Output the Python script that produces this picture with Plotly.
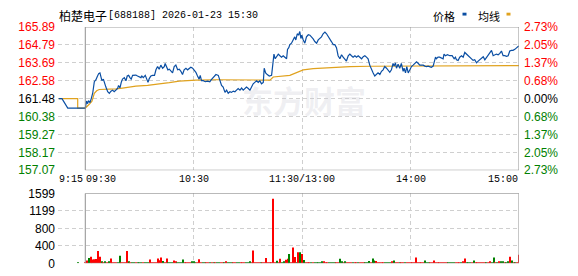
import plotly.graph_objects as go

# ---------------- data ----------------
prev_close = 161.48
price_ticks = [157.07, 158.17, 159.27, 160.38, 161.48, 162.58, 163.69, 164.79, 165.89]
vol_ticks = [0, 400, 800, 1199, 1599]
x_label_text = ["9:15", "09:30", "10:30", "11:30/13:00", "14:00", "15:00"]
x_label_pos = [-15.1, 0, 60, 120, 180, 240]   # minutes from 09:30 (pre-market compressed to the left)
x_grid_pos = [-15.1, 60, 120, 180]

# pre-market call auction (9:15-9:25)
pre_price_pts = [(-14.7, 161.48), (-12.9, 161.48), (-9.7, 160.90), (0, 160.90)]
pre_avg_pts = [(-14.7, 161.48), (-4.2, 161.48), (-4.2, 160.90), (0, 160.90)]
pre_vol_t = [-3.9]
pre_vol = [20]

# (minute index, price)
price_pts = [
    (0, 160.90), (0.7, 161.33), (1.3, 161.17), (1.8, 161.36), (2.6, 161.23), (3.3, 161.48), (4.1, 161.81),
    (5.0, 162.52), (5.9, 162.64), (6.6, 162.83), (7.4, 163.02), (8.1, 163.06), (8.7, 162.83), (9.2, 162.58),
    (10.0, 162.68), (10.7, 162.39), (11.4, 162.19), (12.4, 161.90), (13.3, 161.81), (14.2, 161.94), (15.1, 162.00),
    (16.0, 161.90), (17.0, 162.00), (17.9, 162.10), (18.4, 162.29), (19.2, 162.14), (19.9, 162.48), (20.6, 162.68),
    (21.6, 162.77), (22.5, 162.58), (23.2, 162.87), (24.0, 162.91), (24.7, 162.77), (25.4, 162.68), (26.2, 162.91),
    (27.1, 162.93), (28.0, 162.93), (28.9, 162.87), (29.9, 162.83), (30.8, 162.77), (31.3, 162.87), (32.1, 162.77),
    (33.2, 162.91), (33.9, 162.68), (34.7, 162.48), (35.4, 162.71), (36.3, 162.87), (37.2, 162.91), (38.3, 162.91),
    (39.1, 163.25), (40.0, 163.45), (40.9, 163.29), (41.8, 163.54), (42.8, 163.35), (43.7, 163.45), (44.2, 163.64),
    (45.0, 163.41), (45.7, 163.25), (46.5, 163.29), (47.4, 163.16), (48.3, 163.06), (49.2, 163.45), (50.1, 163.54),
    (51.1, 163.25), (52.0, 163.29), (52.9, 163.16), (53.8, 162.96), (54.7, 163.25), (55.7, 163.35), (56.6, 163.25),
    (57.5, 163.35), (58.4, 163.41), (59.4, 163.35), (60.3, 163.25), (61.2, 163.10), (62.1, 162.87), (63.0, 162.68),
    (63.6, 162.91), (64.3, 162.58), (65.3, 162.58), (66.4, 162.52), (67.7, 162.56), (68.9, 162.52), (70.0, 162.68),
    (71.3, 162.87), (72.3, 162.96), (73.6, 162.91), (74.5, 162.58), (75.4, 162.29), (76.3, 162.19), (77.3, 161.86),
    (78.2, 162.00), (79.1, 161.81), (80.0, 161.90), (80.9, 161.86), (81.9, 161.94), (82.8, 161.90), (83.7, 162.00),
    (84.6, 162.10), (85.6, 162.00), (86.5, 162.13), (87.4, 162.00), (88.3, 162.10), (89.2, 162.19), (90.2, 162.10),
    (91.1, 162.00), (92.0, 162.19), (92.9, 162.39), (93.8, 162.48), (94.8, 162.58), (95.7, 162.48), (96.6, 162.58),
    (97.5, 162.39), (98.5, 162.48), (99.0, 163.35), (99.8, 163.06), (100.7, 162.96), (101.8, 162.87), (103.1, 162.91),
    (103.6, 163.45), (104.4, 164.22), (105.1, 163.93), (105.8, 164.03), (106.8, 164.22), (107.7, 164.12), (108.6, 164.03),
    (109.5, 164.12), (110.4, 164.03), (111.4, 163.93), (111.9, 164.51), (112.6, 164.61), (113.2, 164.80), (114.1, 164.89),
    (115.0, 165.09), (115.9, 165.28), (116.5, 165.09), (117.3, 165.47), (118.0, 165.38), (118.7, 165.61), (119.3, 165.18),
    (119.8, 165.38), (120.6, 165.09), (121.5, 164.89), (122.4, 165.28), (123.4, 165.41), (124.3, 165.38), (125.2, 165.28),
    (126.1, 165.15), (127.0, 164.99), (128.0, 164.89), (128.9, 165.09), (129.8, 165.18), (130.7, 165.28), (131.6, 165.47),
    (132.6, 165.57), (133.5, 165.47), (134.4, 165.28), (135.3, 165.09), (136.2, 164.99), (137.2, 164.80), (138.1, 164.80),
    (139.0, 164.61), (139.9, 164.12), (140.9, 163.93), (141.8, 164.18), (142.7, 164.03), (143.6, 163.93), (144.5, 163.79),
    (145.5, 164.12), (146.4, 164.22), (147.3, 164.12), (148.2, 164.03), (149.2, 164.12), (150.1, 164.03), (151.0, 164.12),
    (151.9, 164.03), (152.9, 163.93), (153.8, 164.06), (154.7, 164.12), (155.6, 164.03), (156.5, 163.93), (157.4, 163.54),
    (158.4, 163.25), (159.3, 163.06), (160.2, 162.87), (161.1, 162.96), (162.0, 163.06), (163.0, 162.96), (163.9, 163.16),
    (164.8, 163.25), (165.7, 163.45), (166.7, 163.35), (167.6, 163.25), (168.5, 163.10), (169.4, 163.25), (170.3, 163.64),
    (170.9, 163.48), (171.6, 163.68), (172.2, 163.35), (173.1, 163.60), (174.0, 163.35), (174.9, 163.64), (175.9, 163.16),
    (176.4, 163.35), (177.2, 163.06), (177.9, 163.45), (178.7, 163.06), (179.6, 163.25), (180.5, 163.45), (181.4, 163.54),
    (182.3, 163.64), (183.3, 163.74), (184.3, 163.64), (185.1, 163.54), (186.0, 163.54), (187.0, 163.54), (187.9, 163.48),
    (188.8, 163.45), (189.7, 163.48), (190.6, 163.45), (191.5, 163.41), (192.5, 163.48), (193.0, 163.74), (193.8, 164.03),
    (194.3, 163.93), (195.2, 164.03), (196.1, 164.03), (197.1, 163.99), (198.0, 163.93), (198.5, 164.22), (199.3, 164.12),
    (200.4, 164.18), (201.7, 164.12), (203.0, 164.12), (204.1, 163.93), (204.8, 164.03), (205.4, 163.87), (206.3, 163.83),
    (207.2, 164.03), (208.2, 164.12), (209.1, 164.03), (210.0, 164.32), (210.9, 164.22), (211.9, 164.12), (212.8, 164.03),
    (213.7, 163.93), (214.6, 163.83), (215.5, 163.87), (216.5, 163.68), (217.4, 163.79), (218.3, 163.87), (219.2, 163.93),
    (220.2, 164.06), (221.1, 163.87), (222.0, 164.03), (222.9, 164.12), (223.9, 164.32), (224.8, 164.45), (225.7, 164.12),
    (226.6, 164.18), (227.5, 164.22), (228.5, 164.18), (229.4, 164.26), (230.3, 164.41), (231.2, 164.12), (232.1, 164.12),
    (233.1, 164.08), (234.0, 164.12), (234.9, 164.41), (235.8, 164.45), (236.7, 164.45), (237.7, 164.51), (238.6, 164.61),
    (239.6, 164.70), (240, 164.70),
]

# (minute index, average price)
avg_pts = [
    (0, 160.90), (2.2, 161.13), (3.7, 161.32), (5.0, 161.81), (6.3, 161.96), (7.7, 162.04), (11.4, 162.04),
    (17.0, 162.08), (20.6, 162.13), (24.3, 162.21), (28.0, 162.25), (34.5, 162.29), (39.1, 162.33), (40.9, 162.39),
    (46.5, 162.46), (52.0, 162.56), (61.2, 162.62), (72.3, 162.64), (102.2, 162.62), (104.0, 162.81), (113.2, 162.91),
    (116.9, 163.06), (120.6, 163.25), (126.1, 163.33), (135.3, 163.39), (146.4, 163.45), (157.5, 163.47),
    (223.8, 163.47), (224.4, 163.51), (240, 163.51),
]

# per-minute volume (t = 0..240) and direction (r = up, g = down)
volume = [
    20, 65, 122, 151, 86, 94, 100, 281, 151, 43,
    22, 29, 22, 29, 108, 22, 22, 22, 20, 173,
    22, 22, 22, 281, 36, 22, 20, 22, 20, 22,
    20, 22, 20, 22, 20, 22, 86, 22, 22, 22,
    108, 72, 130, 50, 22, 108, 22, 22, 22, 65,
    43, 22, 20, 22, 86, 22, 22, 22, 22, 43,
    43, 22, 22, 94, 22, 22, 20, 22, 22, 22,
    22, 20, 22, 22, 20, 22, 22, 22, 36, 22,
    22, 22, 22, 22, 20, 22, 22, 22, 20, 22,
    22, 36, 22, 291, 22, 22, 22, 22, 22, 22,
    124, 22, 22, 22, 1476, 22, 58, 22, 102, 22,
    29, 80, 102, 211, 22, 364, 145, 22, 254, 254,
    211, 73, 22, 22, 22, 22, 22, 22, 22, 22,
    22, 29, 36, 22, 22, 22, 22, 22, 22, 22,
    22, 102, 36, 22, 29, 22, 22, 22, 22, 22,
    22, 22, 22, 22, 22, 22, 22, 50, 22, 108,
    65, 50, 22, 22, 22, 22, 22, 22, 22, 22,
    43, 65, 22, 22, 22, 22, 22, 22, 22, 22,
    22, 22, 22, 130, 22, 22, 22, 22, 65, 22,
    22, 22, 22, 65, 22, 22, 22, 22, 22, 22,
    22, 22, 22, 22, 22, 22, 22, 22, 22, 43,
    108, 22, 22, 22, 22, 65, 22, 22, 22, 22,
    22, 22, 22, 22, 43, 22, 130, 22, 22, 43,
    43, 43, 22, 22, 43, 151, 65, 22, 22, 22,
    194,
]
volume_dir = (
    "rrgrrrrrrg" "rgrgrrrrgg" "rrrrgrggrg" "ggrgggrrrr" "rrrgrrgggr"
    "rggggrrrrg" "ggrrrggrrg" "rgrggrrgrg" "ggrrggrrrg" "ggrrrrrgrr"
    "rrrrrrgrrg" "grrgrrrgrg" "rgrrrgrggg" "ggrrrggggr" "rggrgrrrgr"
    "rgrrrgggrg" "grrrrrgggg" "rgrrgrrgrr" "rrrrrrrrgg" "grrrrrrrrr"
    "rggggrrrgr" "rgggrgrrrr" "rrgrrggrgr" "ggrggrgrgr" "r"
)
pre_vol_dir = "g"

# ---------------- styling ----------------
RED, GREEN, BLACK = "#ff0000", "#008000", "#000000"
PRICE_COLOR, AVG_COLOR = "#0a4ea3", "#e0a21e"
FRAME, GRID = "#8f8f8f", "#cfcfcf"
W, H = 578, 276
XD = [58 / W, 519 / W]
Y_TOP = [1 - 172 / H, 1 - 21 / H]
Y_VOL = [1 - 270 / H, 1 - 196.3 / H]
XR = [-15.1, 240]


def tick_color(v):
    if abs(v - prev_close) < 1e-9:
        return BLACK
    return RED if v > prev_close else GREEN


price_text = [f'<span style="color:{tick_color(v)}">{v:.2f}</span>' for v in price_ticks]
pct_text = [f'<span style="color:{tick_color(v)}">{abs(v - prev_close) / prev_close * 100:.2f}%</span>'
            for v in price_ticks]

fig = go.Figure()

pt, pp = zip(*(pre_price_pts + price_pts))
at, ap = zip(*(pre_avg_pts + avg_pts))

fig.add_trace(go.Scatter(x=at, y=ap, mode="lines", line=dict(color=AVG_COLOR, width=1.2),
                         xaxis="x", yaxis="y", hoverinfo="skip"))
fig.add_trace(go.Scatter(x=pt, y=pp, mode="lines", line=dict(color=PRICE_COLOR, width=1.2),
                         xaxis="x", yaxis="y", hoverinfo="skip"))
# carrier for the right-hand percentage axis (same price data, invisible)
fig.add_trace(go.Scatter(x=pt, y=pp, mode="lines", line=dict(width=0), opacity=0,
                         xaxis="x", yaxis="y2", hoverinfo="skip"))

cmap = {"r": RED, "g": GREEN}
vol_t = list(range(len(volume)))
fig.add_trace(go.Bar(x=pre_vol_t + vol_t, y=pre_vol + volume,
                     marker=dict(color=[cmap[c] for c in pre_vol_dir + volume_dir], line=dict(width=0)),
                     width=0.6, xaxis="x2", yaxis="y3", hoverinfo="skip"))

grid_common = dict(showgrid=True, gridcolor=GRID, griddash="4px,3px", gridwidth=1,
                   zeroline=False, showline=False, ticks="")

fig.update_layout(
    width=W, height=H, margin=dict(l=0, r=0, t=0, b=0),
    paper_bgcolor="white", plot_bgcolor="white", showlegend=False,
    font=dict(family="Liberation Sans, Arial, sans-serif", size=12, color=BLACK),
    xaxis=dict(domain=XD, range=XR, anchor="y", tickvals=x_grid_pos, showticklabels=False, **grid_common),
    yaxis=dict(domain=Y_TOP, range=[price_ticks[0], price_ticks[-1]], anchor="x",
               tickvals=price_ticks, ticktext=price_text, ticklabelstandoff=2, **grid_common),
    yaxis2=dict(overlaying="y", side="right", anchor="x", range=[price_ticks[0], price_ticks[-1]],
                tickvals=price_ticks, ticktext=pct_text, showgrid=False, zeroline=False,
                showline=False, ticks="", ticklabelstandoff=4),
    xaxis2=dict(domain=XD, range=XR, anchor="y3", tickvals=x_grid_pos, showticklabels=False, **grid_common),
    yaxis3=dict(domain=Y_VOL, range=[vol_ticks[0], vol_ticks[-1]], anchor="x2",
                tickvals=vol_ticks, ticktext=[str(v) for v in vol_ticks], ticklabelstandoff=2, **grid_common),
)

# frames
fig.add_shape(type="rect", xref="x", yref="y", x0=0, x1=240, y0=price_ticks[0], y1=price_ticks[-1],
              line=dict(color=FRAME, width=1), layer="above")
fig.add_shape(type="rect", xref="x2", yref="y3", x0=0, x1=240, y0=vol_ticks[0], y1=vol_ticks[-1],
              line=dict(color=FRAME, width=1), layer="above")

# x-axis labels
anchors = ["left", "left", "center", "center", "center", "right"]
for txt, pos, anc in zip(x_label_text, x_label_pos, anchors):
    fig.add_annotation(text=txt, x=pos, xref="x", y=1 - 181.7 / H, yref="paper", xanchor=anc,
                       yanchor="middle", showarrow=False, borderpad=0,
                       font=dict(family="Liberation Mono, monospace", size=10, color=BLACK))

# title
fig.add_annotation(text="柏楚电子", x=58 / W, xref="paper", y=1 - 9 / H, yref="paper", xanchor="left",
                   yanchor="middle", showarrow=False, borderpad=0,
                   font=dict(family="Noto Sans CJK SC", size=12, color=BLACK))
fig.add_annotation(text="[688188] 2026-01-23 15:30", x=107 / W, xref="paper", y=1 - 9 / H, yref="paper",
                   xanchor="left", yanchor="middle", showarrow=False, borderpad=0,
                   font=dict(family="Liberation Mono, monospace", size=10, color=BLACK))

# legend
for txt, tx, sq, col in [("价格", 432, 462.5, PRICE_COLOR), ("均线", 477, 506.5, AVG_COLOR)]:
    fig.add_annotation(text=txt, x=tx / W, xref="paper", y=1 - 9.5 / H, yref="paper", xanchor="left",
                       yanchor="middle", showarrow=False, borderpad=0,
                       font=dict(family="Noto Sans CJK SC", size=11, color=BLACK))
    fig.add_shape(type="rect", xref="paper", yref="paper", x0=sq / W, x1=(sq + 4) / W,
                  y0=1 - 9 / H, y1=1 - 6 / H, fillcolor=col, line=dict(width=0))

# watermark
fig.add_annotation(text="<b>东方财富</b>", x=304 / W, xref="paper", y=1 - 97 / H, yref="paper",
                   xanchor="center", yanchor="middle", showarrow=False,
                   font=dict(family="Noto Sans CJK SC", size=31, color="rgba(200,200,212,0.28)"))

fig.write_html("out.html")
